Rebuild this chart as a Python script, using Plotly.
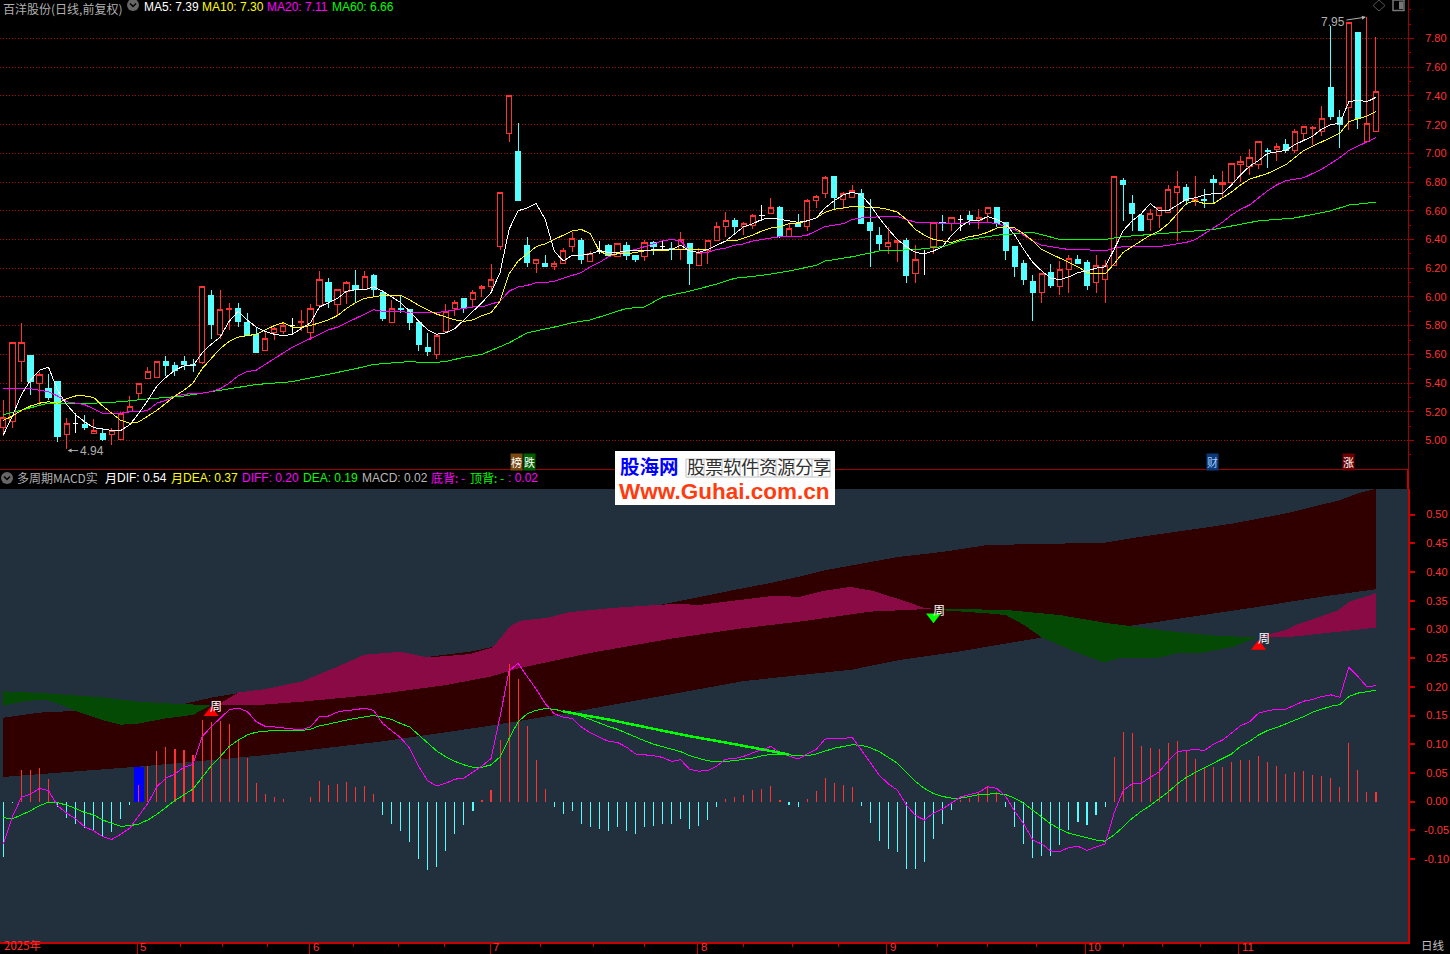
import plotly.graph_objects as go

# ---------- candles ----------
opens = [5.09,5.13,5.55,5.59,5.40,5.36,5.41,5.04,5.12,5.11,5.05,5.05,5.04,5.01,5.20,5.33,5.43,5.44,5.55,5.52,
 5.55,5.53,5.54,6.01,5.74,5.91,5.92,5.82,5.74,5.63,5.75,5.76,5.80,5.82,5.75,5.94,6.10,5.95,6.04,6.08,
 6.05,6.15,6.03,5.82,5.92,5.91,5.82,5.65,5.60,5.76,5.92,5.99,5.98,6.06,6.07,6.35,7.14,7.01,6.36,6.23,
 6.23,6.21,6.23,6.35,6.39,6.25,6.32,6.36,6.28,6.36,6.29,6.28,6.38,6.35,6.34,6.33,6.37,6.22,6.32,6.39,
 6.49,6.53,6.49,6.50,6.57,6.58,6.62,6.42,6.51,6.49,6.67,6.72,6.84,6.68,6.69,6.72,6.52,6.43,6.35,6.38,
 6.39,6.16,6.30,6.35,6.52,6.51,6.54,6.57,6.53,6.58,6.62,6.52,6.35,6.23,6.11,6.03,6.17,6.07,6.19,6.26,
 6.24,6.10,6.12,6.22,6.81,6.65,6.57,6.54,6.57,6.59,6.73,6.76,6.67,6.68,6.82,6.78,6.80,6.92,6.91,6.92,
 7.02,7.03,7.06,7.02,7.14,7.17,7.15,7.46,7.25,7.32,7.84,7.08,7.15]
highs = [5.28,5.68,5.82,5.59,5.48,5.46,5.41,5.16,5.19,5.18,5.15,5.09,5.09,5.20,5.31,5.40,5.51,5.55,5.59,5.55,
 5.59,5.57,6.07,6.05,6.05,5.96,5.96,5.89,5.79,5.76,5.79,5.82,5.85,5.91,5.95,6.18,6.13,6.05,6.11,6.19,
 6.18,6.16,6.05,5.98,6.01,5.91,5.82,5.75,5.73,5.95,5.98,5.99,6.05,6.08,6.23,6.73,7.40,7.21,6.42,6.26,
 6.29,6.25,6.34,6.45,6.41,6.32,6.39,6.37,6.37,6.38,6.29,6.40,6.39,6.39,6.38,6.45,6.37,6.34,6.39,6.52,
 6.59,6.55,6.52,6.58,6.64,6.69,6.63,6.51,6.58,6.68,6.71,6.84,6.84,6.73,6.78,6.75,6.68,6.49,6.49,6.40,
 6.41,6.36,6.33,6.52,6.57,6.55,6.57,6.60,6.61,6.62,6.62,6.52,6.35,6.26,6.15,6.16,6.23,6.25,6.29,6.29,
 6.26,6.29,6.26,6.84,6.83,6.71,6.58,6.61,6.62,6.78,6.88,6.79,6.84,6.75,6.85,6.88,6.93,6.98,7.03,7.08,
 7.04,7.07,7.10,7.17,7.19,7.19,7.33,7.89,7.30,7.91,7.84,7.95,7.81]
lows = [5.03,5.09,5.41,5.32,5.24,5.28,4.99,4.94,5.05,5.07,5.05,5.00,4.97,5.01,5.20,5.28,5.43,5.44,5.45,5.45,
 5.49,5.48,5.53,5.71,5.71,5.77,5.79,5.73,5.61,5.63,5.70,5.74,5.74,5.76,5.70,5.93,5.92,5.87,5.95,5.96,
 6.05,6.00,5.83,5.82,5.89,5.77,5.62,5.59,5.57,5.76,5.87,5.89,5.93,6.00,6.04,6.33,7.08,6.67,6.21,6.17,
 6.21,6.19,6.23,6.31,6.23,6.25,6.30,6.28,6.28,6.26,6.24,6.25,6.29,6.32,6.26,6.26,6.08,6.22,6.23,6.39,
 6.42,6.44,6.43,6.47,6.53,6.58,6.41,6.42,6.49,6.46,6.62,6.69,6.61,6.61,6.69,6.51,6.21,6.32,6.30,6.24,
 6.10,6.10,6.15,6.30,6.46,6.46,6.46,6.50,6.47,6.52,6.49,6.26,6.14,6.08,5.83,5.96,6.06,6.01,6.03,6.23,
 6.05,6.03,5.96,6.22,6.53,6.46,6.46,6.46,6.48,6.59,6.39,6.64,6.63,6.62,6.65,6.69,6.78,6.80,6.85,6.89,
 6.90,6.95,7.00,7.00,7.09,7.06,7.12,7.23,7.04,7.16,7.17,7.08,7.15]
closes = [5.16,5.68,5.68,5.41,5.46,5.30,5.03,5.12,5.12,5.09,5.07,5.01,5.07,5.19,5.24,5.40,5.48,5.55,5.52,5.49,
 5.53,5.52,6.07,5.81,5.91,5.92,5.83,5.73,5.61,5.71,5.78,5.80,5.80,5.83,5.92,6.12,5.97,6.05,6.10,6.05,
 6.14,6.05,5.85,5.92,5.91,5.82,5.67,5.62,5.73,5.90,5.96,5.92,6.03,6.07,6.12,6.73,7.40,6.67,6.24,6.26,
 6.21,6.23,6.32,6.41,6.26,6.30,6.32,6.29,6.37,6.29,6.26,6.38,6.35,6.35,6.33,6.40,6.23,6.31,6.39,6.49,
 6.53,6.49,6.51,6.57,6.57,6.62,6.42,6.48,6.49,6.67,6.70,6.83,6.69,6.72,6.74,6.51,6.46,6.37,6.38,6.39,
 6.15,6.26,6.30,6.52,6.51,6.55,6.54,6.54,6.55,6.62,6.51,6.32,6.21,6.12,6.03,6.16,6.08,6.19,6.27,6.23,
 6.08,6.22,6.22,6.84,6.78,6.58,6.46,6.58,6.62,6.75,6.77,6.67,6.68,6.67,6.80,6.80,6.93,6.94,6.97,7.08,
 7.01,7.05,7.02,7.15,7.19,7.18,7.24,7.26,7.20,7.91,7.24,7.21,7.43]
doji_white = [8,32,66,73,84,102,106]

# ---------- moving averages ----------
ma5 = [5.04,5.17,5.32,5.42,5.49,5.51,5.35,5.25,5.18,5.13,5.09,5.08,5.07,5.07,5.11,5.19,5.28,5.38,5.44,5.49,
 5.52,5.52,5.61,5.67,5.72,5.83,5.90,5.84,5.79,5.76,5.74,5.73,5.74,5.78,5.82,5.93,5.96,5.99,6.04,6.05,
 6.05,6.07,6.04,6.00,5.96,5.90,5.83,5.77,5.74,5.75,5.78,5.84,5.90,5.96,6.03,6.17,6.47,6.60,6.62,6.65,
 6.54,6.32,6.25,6.29,6.29,6.30,6.32,6.31,6.31,6.32,6.32,6.32,6.33,6.33,6.33,6.36,6.32,6.31,6.33,6.36,
 6.39,6.44,6.49,6.51,6.54,6.55,6.54,6.53,6.52,6.53,6.55,6.62,6.67,6.71,6.73,6.71,6.64,6.55,6.47,6.40,
 6.35,6.31,6.30,6.32,6.35,6.43,6.49,6.53,6.53,6.56,6.54,6.51,6.43,6.33,6.24,6.18,6.13,6.12,6.14,6.17,
 6.18,6.20,6.21,6.33,6.46,6.53,6.58,6.65,6.60,6.60,6.64,6.68,6.69,6.71,6.72,6.72,6.78,6.85,6.91,6.95,
 7.00,7.01,7.02,7.06,7.09,7.12,7.17,7.20,7.21,7.36,7.37,7.36,7.39]
ma10 = [5.14,5.17,5.21,5.24,5.26,5.27,5.26,5.29,5.31,5.31,5.30,5.24,5.19,5.14,5.12,5.13,5.17,5.21,5.26,5.31,
 5.35,5.40,5.50,5.57,5.64,5.69,5.72,5.73,5.74,5.77,5.80,5.82,5.79,5.79,5.80,5.82,5.84,5.87,5.92,5.96,
 5.99,6.00,6.01,6.01,6.01,5.98,5.94,5.91,5.88,5.86,5.84,5.83,5.84,5.87,5.89,5.97,6.16,6.25,6.30,6.35,
 6.37,6.40,6.43,6.46,6.47,6.44,6.32,6.29,6.30,6.30,6.31,6.32,6.32,6.32,6.33,6.33,6.33,6.33,6.33,6.36,
 6.39,6.39,6.41,6.43,6.46,6.48,6.49,6.51,6.51,6.53,6.55,6.59,6.61,6.62,6.63,6.63,6.62,6.62,6.61,6.59,
 6.54,6.47,6.43,6.40,6.39,6.38,6.40,6.42,6.43,6.45,6.48,6.49,6.48,6.44,6.39,6.33,6.30,6.27,6.24,6.21,
 6.17,6.16,6.16,6.23,6.31,6.35,6.39,6.43,6.46,6.51,6.58,6.65,6.67,6.65,6.65,6.69,6.73,6.78,6.82,6.84,
 6.86,6.89,6.92,6.97,7.02,7.05,7.08,7.11,7.14,7.22,7.24,7.26,7.29]
ma20 = [5.36,5.36,5.36,5.36,5.35,5.34,5.31,5.27,5.26,5.25,5.22,5.19,5.19,5.19,5.20,5.20,5.21,5.26,5.28,5.31,
 5.32,5.33,5.33,5.34,5.36,5.40,5.45,5.48,5.49,5.53,5.57,5.61,5.65,5.68,5.71,5.74,5.77,5.79,5.82,5.85,
 5.88,5.91,5.90,5.90,5.90,5.89,5.89,5.89,5.89,5.90,5.91,5.92,5.93,5.93,5.95,5.97,6.04,6.07,6.08,6.10,
 6.10,6.11,6.13,6.15,6.17,6.21,6.24,6.28,6.30,6.32,6.33,6.35,6.37,6.39,6.40,6.39,6.32,6.31,6.31,6.33,
 6.34,6.36,6.37,6.39,6.40,6.41,6.42,6.42,6.42,6.43,6.46,6.49,6.50,6.51,6.54,6.55,6.55,6.56,6.56,6.56,
 6.54,6.52,6.52,6.52,6.51,6.51,6.51,6.52,6.52,6.52,6.51,6.49,6.47,6.43,6.39,6.36,6.35,6.34,6.33,6.33,
 6.33,6.32,6.32,6.34,6.35,6.35,6.35,6.35,6.35,6.36,6.37,6.38,6.40,6.44,6.48,6.52,6.57,6.61,6.64,6.69,
 6.74,6.78,6.81,6.82,6.83,6.86,6.89,6.93,6.97,7.02,7.05,7.08,7.11]
ma60_idx = [0,3,5,10,13,16,20,25,28,32,36,39,41,45,47,49,51,53,56,58,61,63,65,69,71,73,76,79,81,84,87,90,91,94,97,101,104,106,110,114,117,122,124,128,134,139,143,147,149,152]
ma60 = [5.18,5.23,5.26,5.26,5.27,5.29,5.31,5.36,5.39,5.41,5.46,5.50,5.53,5.55,5.54,5.55,5.58,5.60,5.68,5.75,5.79,5.82,5.84,5.92,5.93,6.00,6.04,6.09,6.13,6.15,6.18,6.22,6.25,6.28,6.32,6.33,6.35,6.39,6.43,6.45,6.40,6.40,6.42,6.44,6.47,6.53,6.55,6.60,6.64,6.66]

# ---------- MACD pane ----------
hist = [-0.096,-0.003,0.055,0.055,0.058,0.039,-0.010,-0.028,-0.039,-0.046,-0.051,-0.060,-0.053,-0.030,-0.006,0.029,0.062,0.088,0.095,0.092,
 0.090,0.081,0.142,0.139,0.141,0.135,0.109,0.076,0.033,0.013,0.008,0.005,0,0,0.008,0.036,0.029,0.031,0.034,0.026,
 0.027,0.013,-0.023,-0.039,-0.051,-0.070,-0.100,-0.120,-0.114,-0.086,-0.056,-0.041,-0.016,0.003,0.020,0.107,0.240,0.214,0.132,0.073,
 0.022,-0.009,-0.021,-0.017,-0.039,-0.045,-0.048,-0.052,-0.045,-0.051,-0.057,-0.045,-0.042,-0.039,-0.039,-0.030,-0.047,-0.042,-0.032,-0.010,
 0.005,0.008,0.012,0.020,0.022,0.027,0.003,-0.006,-0.010,0.005,0.019,0.041,0.033,0.029,0.026,-0.007,-0.037,-0.068,-0.082,-0.087,
 -0.117,-0.117,-0.105,-0.065,-0.039,-0.015,0.002,0.006,0.016,0.027,0.016,-0.010,-0.044,-0.074,-0.099,-0.094,-0.094,-0.075,-0.049,-0.035,
 -0.041,-0.023,-0.009,0.078,0.121,0.120,0.097,0.093,0.092,0.102,0.106,0.088,0.074,0.059,0.060,0.060,0.069,0.073,0.073,0.080,
 0.069,0.062,0.048,0.052,0.053,0.046,0.045,0.041,0.026,0.102,0.055,0.017,0.017]
dif = [-0.073,-0.026,0.008,0.013,0.023,0.019,-0.007,-0.020,-0.030,-0.044,-0.051,-0.061,-0.066,-0.057,-0.046,-0.024,-0.003,0.026,0.041,0.048,
 0.060,0.065,0.113,0.130,0.145,0.160,0.163,0.157,0.139,0.131,0.130,0.128,0.126,0.125,0.130,0.148,0.149,0.156,0.159,0.160,
 0.163,0.159,0.136,0.124,0.111,0.093,0.061,0.036,0.027,0.032,0.039,0.041,0.052,0.062,0.075,0.148,0.228,0.241,0.218,0.196,
 0.171,0.153,0.147,0.145,0.130,0.120,0.112,0.105,0.103,0.095,0.083,0.082,0.080,0.077,0.070,0.073,0.056,0.053,0.054,0.062,
 0.074,0.075,0.079,0.085,0.090,0.096,0.085,0.079,0.074,0.083,0.091,0.109,0.109,0.110,0.112,0.090,0.068,0.046,0.031,0.020,
 -0.006,-0.024,-0.032,-0.020,-0.013,-0.003,0.008,0.012,0.016,0.026,0.023,0.009,-0.017,-0.039,-0.067,-0.074,-0.086,-0.087,-0.080,-0.078,
 -0.085,-0.079,-0.074,-0.020,0.019,0.031,0.032,0.042,0.052,0.071,0.087,0.089,0.091,0.089,0.100,0.107,0.119,0.132,0.139,0.154,
 0.158,0.161,0.161,0.168,0.175,0.178,0.183,0.186,0.182,0.234,0.218,0.200,0.202]
dea = [-0.028,-0.030,-0.023,-0.016,-0.007,-0.001,-0.002,-0.006,-0.012,-0.019,-0.023,-0.032,-0.038,-0.043,-0.042,-0.039,-0.032,-0.022,-0.010,0.002,
 0.012,0.022,0.042,0.062,0.078,0.096,0.107,0.116,0.121,0.123,0.124,0.124,0.124,0.124,0.126,0.132,0.135,0.139,0.142,0.145,
 0.148,0.150,0.147,0.143,0.136,0.130,0.116,0.102,0.088,0.078,0.070,0.064,0.060,0.060,0.064,0.078,0.110,0.139,0.153,0.159,
 0.162,0.161,0.157,0.155,0.149,0.142,0.136,0.131,0.126,0.119,0.112,0.106,0.100,0.096,0.091,0.087,0.080,0.075,0.071,0.070,
 0.070,0.071,0.074,0.076,0.080,0.082,0.082,0.081,0.080,0.080,0.083,0.088,0.093,0.096,0.099,0.098,0.094,0.087,0.077,0.067,
 0.051,0.035,0.023,0.014,0.009,0.006,0.006,0.009,0.012,0.013,0.014,0.012,0.006,-0.003,-0.015,-0.026,-0.039,-0.048,-0.055,-0.059,
 -0.063,-0.067,-0.069,-0.058,-0.044,-0.029,-0.017,-0.007,0.005,0.017,0.031,0.042,0.051,0.059,0.067,0.074,0.083,0.096,0.105,0.116,
 0.124,0.129,0.135,0.141,0.148,0.156,0.161,0.166,0.169,0.183,0.189,0.192,0.194]
thick_idx = [62,67,71,76,81,85,87]
thick_val = [0.157,0.143,0.130,0.114,0.100,0.088,0.082]

# monthly band
mon_top_idx = [0,4,8,15,20,23,26,35,47,52,54,60,67,73,77,81,85,89,91,99,104,109,115,122,125,130,136,142,148,150,152]
mon_top = [0.146,0.155,0.158,0.163,0.170,0.181,0.189,0.205,0.252,0.262,0.269,0.300,0.325,0.343,0.356,0.369,0.381,0.395,0.403,0.426,0.435,0.447,0.449,0.451,0.459,0.470,0.484,0.502,0.525,0.537,0.545]
mon_bot_idx = [0,15,29,42,53,62,82,94,99,106,115,126,138,146,152]
mon_bot = [0.043,0.061,0.081,0.105,0.130,0.153,0.210,0.230,0.246,0.262,0.286,0.309,0.337,0.357,0.370]

# weekly band pieces
wg1_top_idx = [0,4.5,10.7,15,19.6,23]
wg1_top = [0.192,0.189,0.182,0.174,0.170,0.168]
wg1_bot_idx = [0,2,4.5,6,8,11,13,15,18,21,23]
wg1_bot = [0.167,0.174,0.178,0.171,0.158,0.142,0.134,0.136,0.145,0.151,0.168]
wm1_top_idx = [23,24,26,29,33,37,40,44,47,51.7,54.2,55.3,56.1,57.2,60.2,62.7,67.2,70.8,75,76.8,79.7,85,88.2,90.8,93.8,96.3,99.3,101.9,103]
wm1_top = [0.168,0.171,0.190,0.196,0.209,0.235,0.256,0.261,0.251,0.257,0.269,0.290,0.305,0.315,0.320,0.330,0.337,0.341,0.345,0.342,0.348,0.358,0.357,0.367,0.374,0.367,0.352,0.338,0.336]
wm1_bot_idx = [23,28,33,41,49,54,57,65,74,81.4,88.9,96,103]
wm1_bot = [0.168,0.168,0.174,0.186,0.203,0.218,0.232,0.259,0.284,0.301,0.315,0.331,0.336]
wg2_top_idx = [103,111,117,122.2,129.6,134.3,138.8]
wg2_top = [0.336,0.334,0.325,0.311,0.296,0.289,0.286]
wg2_bot_idx = [103,104.3,109,111,113,115,118.7,121.9,123.8,128,129.9,132.7,136.2,138.8]
wg2_bot = [0.336,0.333,0.328,0.325,0.308,0.286,0.261,0.242,0.251,0.251,0.258,0.259,0.270,0.286]
wm2_top_idx = [138.8,142,143.2,147.8,149,152]
wm2_top = [0.286,0.299,0.308,0.333,0.348,0.363]
wm2_bot_idx = [138.8,142,146,152]
wm2_bot = [0.286,0.286,0.293,0.303]

# signals
sig_up_idx = [23,139]
sig_up_val = [0.155,0.270]
sig_dn_idx = [103]
sig_dn_val = [0.322]
blue_idx = [15]
blue_val = [0.060]

price_ticks = [5.0,5.2,5.4,5.6,5.8,6.0,6.2,6.4,6.6,6.8,7.0,7.2,7.4,7.6,7.8]
macd_ticks = [-0.10,-0.05,0.0,0.05,0.10,0.15,0.20,0.25,0.30,0.35,0.40,0.45,0.50]
macd_tick_text = ["","","0.00","0.05","0.10","0.15","0.20","0.25","0.30","0.35","0.40","0.45","0.50"]
macd_neg_ticks = [-0.10,-0.05]
macd_neg_text = ["-0.10","-0.05"]
month_idx = [14.8,33.9,53.9,76.9,97.8,119.8,136.8]
month_labels = ["5","6","7","8","9","10","11"]
week_idx = [19.6,24.3,29.2,38.8,43.8,48.8,59.5,65.3,71,82,87.4,92.5,103.4,109,114.4,124,128.4,132.6]

N = len(opens)
for a in (highs,lows,closes,ma5,ma10,ma20,hist,dif,dea):
    assert len(a)==N, len(a)
idx = list(range(N))

W,H = 1450,954
def X(px): return px/W
def Y(py): return 1-py/H
RIGHT = 1408
RED='#ff3232'; CYAN='#54ffff'; AX='#c80000'
XR=[-3.4/9.03,(RIGHT-3.4)/9.03]
CJK='Noto Sans CJK SC'; LAT='Liberation Sans'

fig = go.Figure()
ni = [i for i in idx if i not in doji_white]
fig.add_trace(go.Candlestick(x=ni,open=[opens[i] for i in ni],high=[highs[i] for i in ni],low=[lows[i] for i in ni],close=[closes[i] for i in ni],
    xaxis='x',yaxis='y',whiskerwidth=0,
    increasing=dict(line=dict(color=RED,width=1),fillcolor='#000000'),
    decreasing=dict(line=dict(color=CYAN,width=1),fillcolor=CYAN),hoverinfo='skip'))
fig.add_trace(go.Candlestick(x=doji_white,open=[opens[i] for i in doji_white],high=[highs[i] for i in doji_white],low=[lows[i] for i in doji_white],close=[closes[i] for i in doji_white],
    xaxis='x',yaxis='y',whiskerwidth=0,
    increasing=dict(line=dict(color='#ffffff',width=1),fillcolor='#ffffff'),
    decreasing=dict(line=dict(color='#ffffff',width=1),fillcolor='#ffffff'),hoverinfo='skip'))
def line(x,y,c,xa='x',ya='y',w=1):
    fig.add_trace(go.Scatter(x=x,y=y,mode='lines',line=dict(color=c,width=w),xaxis=xa,yaxis=ya,hoverinfo='skip'))
line(ma60_idx,ma60,'#00ff00')
line(idx,ma20,'#ff00ff')
line(idx,ma10,'#ffff00')
line(idx,ma5,'#ffffff')

def band(xt,yt,xb,yb,c):
    fig.add_trace(go.Scatter(x=list(xt)+list(xb)[::-1],y=list(yt)+list(yb)[::-1],mode='lines',fill='toself',fillcolor=c,
        line=dict(width=0,color=c),xaxis='x2',yaxis='y2',hoverinfo='skip'))
band(mon_top_idx,mon_top,mon_bot_idx,mon_bot,'#300000')
GRN='#044a04'; MAG='#8a0a45'
band(wg1_top_idx,wg1_top,wg1_bot_idx,wg1_bot,GRN)
band(wm1_top_idx,wm1_top,wm1_bot_idx,wm1_bot,MAG)
band(wg2_top_idx,wg2_top,wg2_bot_idx,wg2_bot,GRN)
band(wm2_top_idx,wm2_top,wm2_bot_idx,wm2_bot,MAG)

fig.add_trace(go.Bar(x=blue_idx,y=blue_val,width=1.03,marker=dict(color='#0000ff',line=dict(width=0)),xaxis='x2',yaxis='y3',hoverinfo='skip'))
fig.add_trace(go.Bar(x=idx,y=hist,width=0.12,marker=dict(color=[RED if v>=0 else CYAN for v in hist],line=dict(width=0)),xaxis='x2',yaxis='y3',hoverinfo='skip'))
line(idx,dea,'#00ff00','x2','y3')
line(idx,dif,'#ff00ff','x2','y3')
line(thick_idx,thick_val,'#00ff00','x2','y3',2.5)
fig.add_trace(go.Scatter(x=sig_up_idx,y=sig_up_val,mode='markers',marker=dict(symbol='triangle-up',size=13,color='#ff0000',line=dict(width=0)),xaxis='x2',yaxis='y3',hoverinfo='skip'))
fig.add_trace(go.Scatter(x=sig_dn_idx,y=sig_dn_val,mode='markers',marker=dict(symbol='triangle-down',size=13,color='#00ff00',line=dict(width=0)),xaxis='x2',yaxis='y3',hoverinfo='skip'))

# ---------- texts ----------
ann=[]
def T(px,py,s,c,size=12,fam=CJK,anchor='left',**kw):
    ann.append(dict(x=X(px),y=Y(py),xref='paper',yref='paper',text=s,showarrow=False,xanchor=anchor,yanchor='middle',
        font=dict(color=c,size=size,family=fam),borderpad=0,**kw))
T(2,8.8,"百洋股份(日线,前复权)",'#b0b0b0',12)
T(143,7,"MA5: 7.39",'#ffffff',12,LAT)
T(201,7,"MA10: 7.30",'#ffff00',12,LAT)
T(266,7,"MA20: 7.11",'#ff00ff',12,LAT)
T(331,7,"MA60: 6.66",'#00ff00',12,LAT)
T(16,478,"多周期MACD实",'#b0b0b0',12)
T(104,478,"月",'#ffffff',12); T(116,478,"DIF: 0.54",'#ffffff',12,LAT)
T(170,478,"月",'#ffff00',12); T(182,478,"DEA: 0.37",'#ffff00',12,LAT)
T(241,478,"DIFF: 0.20",'#ff00ff',12,LAT)
T(302,478,"DEA: 0.19",'#00ff00',12,LAT)
T(361,478,"MACD: 0.02",'#b8b8b8',12,LAT)
T(430,478,"底背: -",'#ff00ff',12)
T(469,478,"顶背: -",'#00ff00',12)
T(507,478,": 0.02",'#ff00ff',12,LAT)
# event tags
T(516.5,462,"榜",'#ffffff',11,anchor='center',bgcolor='#7a4a10')
T(529,462,"跌",'#ffffff',11,anchor='center',bgcolor='#006000')
T(1212,462,"财",'#a0c8ff',11,anchor='center',bgcolor='#0c3a78')
T(1348,462,"涨",'#ffffff',11,anchor='center',bgcolor='#700000')
# 周 labels
T(216,705,"周",'#ffffff',12,anchor='center')
T(939,609,"周",'#ffffff',12,anchor='center')
T(1264,637,"周",'#ffffff',12,anchor='center')
# axis labels
T(3,945.4,"2025年",RED,11.5)
for mi,ml in zip(month_idx,month_labels):
    T(3.4+9.03*mi+2,947.2,ml,RED,11.5,LAT)
T(1420,945.4,"日线",'#c0c0c0',11.5)
for v,s in zip(macd_neg_ticks,macd_neg_text):
    T(1450,801.6-v*574,s,RED,11,LAT,anchor='right')
# hi / lo
ann.append(dict(x=151,y=7.95,xref='x',yref='y',text="7.95",showarrow=True,arrowhead=2,arrowsize=0.8,arrowwidth=1,arrowcolor='#b0b0b0',
    ax=-34,ay=5,axref='pixel',ayref='pixel',font=dict(color='#b0b0b0',size=12,family=LAT),standoff=1))
ann.append(dict(x=7,y=4.93,xref='x',yref='y',text="4.94",showarrow=True,arrowhead=2,arrowsize=0.8,arrowwidth=1,arrowcolor='#b0b0b0',
    ax=25,ay=0,axref='pixel',ayref='pixel',font=dict(color='#b0b0b0',size=12,family=LAT),standoff=1))
# logo
T(619,465,"<b>股海网</b>",'#0000ff',19.5)
T(686,465.5,"股票软件资源分享",'#303030',18)
T(618,491,"<b>Www.Guhai.com.cn</b>",'#ff3c10',22.5,LAT)

# ---------- shapes ----------
shapes=[]
def S(**k):
    k.setdefault('xref','paper'); k.setdefault('yref','paper'); shapes.append(k)
def R(x0,y0,x1,y1,fill=None,lc=None,lw=0,layer='above',t='rect'):
    S(type=t,x0=X(x0),x1=X(x1),y0=Y(y0),y1=Y(y1),fillcolor=fill,line=dict(color=lc,width=lw),layer=layer)
R(0,489,RIGHT,942,'#222f3c',layer='below')
R(1407,470,1409,489,AX)
R(615,451,835,505,'#ffffff')
for k in range(9):
    S(type='line',x0=X(686+18*k),x1=X(686+18*k),y0=Y(459),y1=Y(477),line=dict(color='#c0c0c0',width=1),layer='above')
for yy in (459,477):
    S(type='line',x0=X(686),x1=X(830),y0=Y(yy),y1=Y(yy),line=dict(color='#c0c0c0',width=1),layer='above')
for cx,cy in ((133,5),(7,478)):
    R(cx-6,cy-6,cx+6,cy+6,'#666666',t='circle')
    S(type='path',path=f"M {X(cx-3)} {Y(cy-1.5)} L {X(cx)} {Y(cy+1.5)} L {X(cx+3)} {Y(cy-1.5)}",line=dict(color='#000000',width=1.5),layer='above')
S(type='path',path=f"M {X(1379)} {Y(0)} L {X(1385)} {Y(5.5)} L {X(1379)} {Y(11)} L {X(1373)} {Y(5.5)} Z",line=dict(color='#555555',width=1),layer='above')
R(1393,0,1404,10.5,None,'#777777',1.5)
R(1399,1.5,1403,9,'#777777')

TF=dict(color=RED,size=11,family=LAT)
layout = dict(
    width=W,height=H,margin=dict(l=0,r=0,t=0,b=0,autoexpand=False),autosize=False,paper_bgcolor='#000000',plot_bgcolor='rgba(0,0,0,0)',
    showlegend=False,hovermode=False,dragmode=False,barmode='overlay',boxgap=0.18,
    xaxis=dict(automargin=False,domain=[0,X(RIGHT)],range=XR,anchor='y',rangeslider=dict(visible=False),showgrid=False,zeroline=False,showticklabels=False,ticks='',
        showline=True,linecolor='#a00000',linewidth=1),
    xaxis2=dict(automargin=False,domain=[0,X(RIGHT)],range=XR,anchor='y2',showgrid=False,zeroline=False,showticklabels=False,
        tickmode='array',tickvals=month_idx,ticks='outside',ticklen=12,tickcolor=AX,tickwidth=1,
        showline=True,linecolor=AX,linewidth=2,
        minor=dict(tickmode='array',tickvals=week_idx,ticks='outside',ticklen=3,tickcolor=AX,tickwidth=1,showgrid=False)),
    yaxis=dict(automargin=False,domain=[Y(469),1],range=[5+(440.5-469)/143.57,5+440.5/143.57],anchor='x',side='right',
        tickmode='array',tickvals=price_ticks,tickformat='.2f',ticks='outside',ticklen=5,tickcolor='#a00000',
        tickfont=TF,ticklabelstandoff=9,
        showgrid=True,gridcolor='#b00000',griddash='1px,2px',gridwidth=1,zeroline=False,showline=True,linecolor='#a00000',linewidth=1,
        minor=dict(dtick=0.1,ticks='outside',ticklen=2,tickcolor='#a00000',showgrid=False)),
    yaxis2=dict(automargin=False,domain=[Y(942),Y(489)],range=[(801.6-942)/574,(801.6-489)/574],anchor='x2',side='right',
        tickmode='array',tickvals=macd_ticks,ticktext=macd_tick_text,ticks='outside',ticklen=5,tickcolor=AX,tickwidth=2,
        tickfont=TF,ticklabelstandoff=9,
        showgrid=False,zeroline=False,showline=True,linecolor=AX,linewidth=2),
    yaxis3=dict(automargin=False,overlaying='y2',range=[(801.6-942)/574,(801.6-489)/574],anchor='x2',side='right',visible=False,showgrid=False,zeroline=False),
    annotations=ann,shapes=shapes,
)
fig.update_layout(**layout)
fig.write_html("out.html",config=dict(displayModeBar=False,staticPlot=True),
    post_script="document.body.style.margin='0';document.body.style.overflow='hidden';document.body.style.background='#000';"
    "document.querySelectorAll('.boxes path,.js-line,.js-fill,.bars path').forEach(function(p){p.style.shapeRendering='crispEdges';});")
